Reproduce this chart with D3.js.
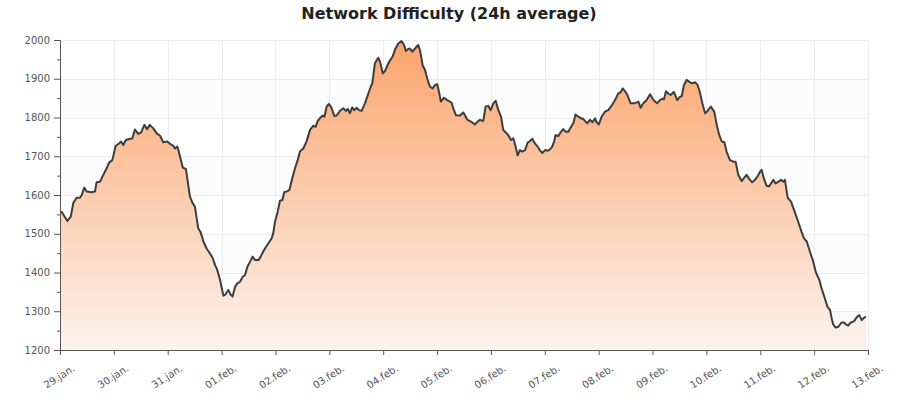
<!DOCTYPE html>
<html><head><meta charset="utf-8">
<script src="https://cdn.jsdelivr.net/npm/d3@7"></script>
<style>
html,body{margin:0;padding:0;background:#fff;}
svg{display:block;font-family:"DejaVu Sans",sans-serif;}
</style></head>
<body><svg id="chart" width="900" height="400"></svg>
<script>
const title = "Network Difficulty (24h average)";
const hours = [0.0,0.7,3.3,4.8,5.9,7.4,8.9,9.7,10.8,11.9,14.1,15.6,16.3,17.8,19.3,20.8,21.8,23.3,24.8,26.3,27.2,28.2,29.3,31.2,32.2,33.4,34.9,36.1,37.6,38.8,40.0,41.6,43.1,44.6,46.0,47.8,49.0,50.5,51.2,52.3,53.5,54.7,56.1,57.9,59.1,60.1,61.6,62.7,63.9,65.3,66.8,68.0,69.1,70.1,71.3,72.8,73.7,75.0,76.0,76.9,78.0,79.0,80.2,81.4,82.4,83.5,84.7,85.8,86.9,88.4,89.4,90.6,92.1,92.8,94.3,95.0,95.8,97.0,98.0,99.1,99.9,101.4,102.2,103.5,104.7,105.9,106.9,108.4,109.9,111.4,112.9,113.9,114.8,115.8,116.9,117.8,118.8,119.8,121.0,122.2,123.3,124.7,126.2,127.3,128.2,129.2,130.2,131.1,132.2,133.2,134.4,135.9,137.4,138.6,139.1,140.3,141.8,142.6,143.8,144.8,146.3,147.3,148.2,149.2,150.7,152.2,153.3,154.1,155.2,155.9,157.0,158.2,159.6,160.4,161.6,162.6,163.6,164.8,166.0,167.1,168.1,169.0,169.7,171.1,172.6,174.5,175.2,176.4,178.2,179.7,180.4,181.5,182.7,183.4,184.9,185.9,187.1,188.6,189.6,190.8,191.9,193.1,194.1,195.3,196.5,197.5,198.5,199.7,200.9,202.0,203.0,203.9,204.9,206.0,207.2,208.4,209.4,210.4,211.6,212.8,213.8,214.9,216.1,217.3,218.3,219.3,220.2,220.8,222.0,223.2,224.2,225.3,226.5,227.7,228.7,229.7,230.9,232.1,233.2,234.9,236.1,237.3,238.4,239.1,240.1,241.3,242.8,244.3,245.8,247.3,248.7,249.8,250.7,251.7,252.8,254.2,256.2,257.7,258.7,259.9,261.4,262.9,264.0,265.1,266.1,267.3,268.5,269.1,270.0,271.0,272.1,273.5,275.0,276.2,277.0,278.0,279.2,280.4,281.7,282.9,284.1,285.1,286.2,287.4,288.5,290.0,291.5,292.6,293.6,294.8,296.0,297.0,298.5,300.0,301.0,302.2,303.7,304.9,305.9,307.4,308.4,309.6,310.8,311.9,312.6,313.8,314.8,315.9,316.8,317.8,318.8,320.0,321.2,322.3,323.0,324.2,325.7,327.2,328.9,330.4,331.5,332.7,334.1,335.6,336.8,338.3,339.3,340.8,341.9,343.1,343.8,344.5,345.6,346.8,348.2,349.3,350.2,351.2,352.3,353.7,355.2,356.1,357.2,358.2,359.1];
const difficulty = [1557,1557,1533,1544,1579,1593,1593,1600,1619,1609,1607,1609,1633,1634,1652,1669,1683,1690,1727,1733,1738,1729,1742,1745,1746,1769,1758,1761,1781,1770,1781,1772,1759,1753,1736,1738,1732,1727,1720,1725,1699,1671,1667,1596,1579,1570,1514,1503,1480,1462,1449,1438,1419,1406,1381,1340,1343,1355,1343,1338,1363,1372,1376,1389,1393,1415,1428,1441,1432,1432,1441,1455,1469,1475,1488,1501,1531,1557,1585,1587,1607,1610,1613,1643,1669,1690,1712,1720,1739,1768,1779,1776,1791,1798,1805,1802,1828,1835,1825,1804,1805,1817,1824,1817,1822,1811,1826,1819,1825,1819,1817,1837,1862,1882,1886,1940,1954,1944,1914,1920,1940,1950,1957,1974,1991,1997,1987,1972,1977,1978,1970,1978,1987,1974,1934,1923,1901,1880,1875,1884,1886,1862,1841,1851,1845,1838,1824,1806,1805,1813,1806,1794,1791,1788,1782,1789,1794,1791,1828,1830,1819,1837,1843,1819,1802,1768,1762,1755,1742,1746,1725,1702,1716,1712,1716,1736,1739,1745,1733,1725,1716,1708,1716,1714,1718,1725,1739,1755,1752,1763,1770,1763,1763,1776,1785,1808,1802,1798,1796,1785,1794,1788,1798,1788,1782,1802,1815,1819,1831,1845,1862,1865,1875,1868,1858,1837,1837,1841,1825,1837,1845,1860,1849,1841,1837,1845,1849,1847,1868,1862,1858,1866,1845,1853,1855,1884,1897,1892,1888,1891,1884,1865,1837,1811,1817,1828,1815,1781,1757,1738,1736,1712,1690,1686,1686,1652,1636,1645,1652,1639,1633,1639,1648,1660,1665,1639,1624,1622,1630,1639,1630,1634,1639,1634,1639,1593,1583,1559,1531,1505,1488,1480,1454,1428,1400,1381,1359,1333,1312,1303,1282,1266,1258,1260,1271,1271,1266,1263,1271,1274,1286,1290,1277,1283,1286];
const tickLabels = ["29.jan.","30.jan.","31.jan.","01.feb.","02.feb.","03.feb.","04.feb.","05.feb.","06.feb.","07.feb.","08.feb.","09.feb.","10.feb.","11.feb.","12.feb.","13.feb."];
const yTicks = [1200,1300,1400,1500,1600,1700,1800,1900,2000];
const yMinorTicks = [1250,1350,1450,1550,1650,1750,1850,1950];
const bandRanges = [[1800,1900],[1600,1700],[1400,1500],[1200,1300]];

const start = new Date(Date.UTC(2024,0,29));
const end = new Date(Date.UTC(2024,1,13));
const data = hours.map((h,i)=>({t:new Date(start.getTime()+h*3600e3), v:difficulty[i]}));

const svg = d3.select("#chart");
const L=60, R=868, T=40, B=350;
const x = d3.scaleUtc().domain([start,end]).range([L,R]);
const y = d3.scaleLinear().domain([1200,2000]).range([B,T]);
const dayTicks = d3.utcDay.range(start, d3.utcDay.offset(end,1));

// bands
svg.append("g").selectAll("rect").data(bandRanges).join("rect")
  .attr("x",L).attr("width",R-L)
  .attr("y",d=>y(d[1])).attr("height",d=>y(d[0])-y(d[1]))
  .attr("fill","#fbfbfb");

// grid
const grid = svg.append("g").attr("stroke","#ececec").attr("stroke-width",1);
grid.selectAll("line.h").data(yTicks).join("line").attr("class","h")
  .attr("x1",L).attr("x2",R).attr("y1",d=>Math.round(y(d))+0.5).attr("y2",d=>Math.round(y(d))+0.5);
grid.selectAll("line.v").data(dayTicks).join("line").attr("class","v")
  .attr("x1",d=>Math.round(x(d))+0.5).attr("x2",d=>Math.round(x(d))+0.5).attr("y1",T).attr("y2",B);

// gradient
const defs = svg.append("defs");
const grad = defs.append("linearGradient").attr("id","g1")
  .attr("gradientUnits","userSpaceOnUse").attr("x1",0).attr("x2",0).attr("y1",y(2000)).attr("y2",y(1200));
grad.append("stop").attr("offset","0%").attr("stop-color","#fba46c");
grad.append("stop").attr("offset","100%").attr("stop-color","#fcf3ee");

const area = d3.area().x(d=>x(d.t)).y0(y(1200)).y1(d=>y(d.v));
svg.append("path").datum(data).attr("d",area).attr("fill","url(#g1)");
const line = d3.line().x(d=>x(d.t)).y(d=>y(d.v));
svg.append("path").datum(data).attr("d",line).attr("fill","none")
  .attr("stroke","#3d3d3d").attr("stroke-width",2).attr("stroke-linejoin","round");

// y axis
const yAxis = svg.append("g").attr("transform",`translate(${L},0)`)
  .call(d3.axisLeft(y).tickValues(yTicks).tickSize(6).tickPadding(4).tickFormat(d3.format("d")));
svg.append("g").attr("transform",`translate(${L},0)`)
  .call(d3.axisLeft(y).tickValues(yMinorTicks).tickSize(3).tickFormat(""))
  .select(".domain").remove();
// x axis
const xAxis = svg.append("g").attr("transform",`translate(0,${B})`)
  .call(d3.axisBottom(x).tickValues(dayTicks).tickSize(5).tickFormat((d,i)=>tickLabels[i]));
svg.selectAll(".domain").attr("stroke","#555");
svg.selectAll(".tick line").attr("stroke","#555");
yAxis.selectAll("text").attr("fill","#555").style("font-size","10px").style("font-family","DejaVu Sans");
xAxis.selectAll("text").attr("fill","#555").style("font-size","10px").style("font-family","DejaVu Sans")
  .attr("text-anchor","middle").attr("dy",null).attr("y",null)
  .attr("transform","translate(-1,27) rotate(-33)").attr("dominant-baseline","middle");

svg.append("text").attr("x",449).attr("y",19).attr("text-anchor","middle")
  .style("font-size","16px").style("font-weight","bold").attr("fill","#222").text(title);
</script></body></html>
